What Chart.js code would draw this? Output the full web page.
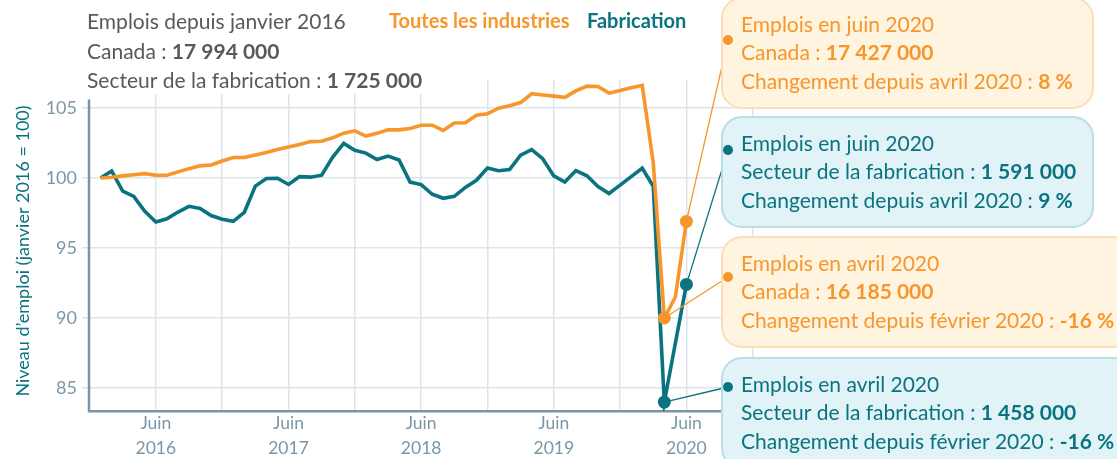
<!DOCTYPE html>
<html lang="fr">
<head>
<meta charset="utf-8">
<script src="https://cdn.jsdelivr.net/npm/chart.js@4.4.1/dist/chart.umd.min.js"></script>
<style>
  html, body { margin: 0; padding: 0; background: #fff; }
  #wrap { position: relative; width: 1117px; height: 459px; }
</style>
</head>
<body>
<div id="wrap"><canvas id="emploiChart" width="1117" height="459"></canvas></div>
<script>
// janvier 2016 -> juin 2020, indice (janvier 2016 = 100)
const mois = [
  'janv. 2016','févr. 2016','mars 2016','avr. 2016','mai 2016','juin 2016','juil. 2016','août 2016','sept. 2016','oct. 2016','nov. 2016','déc. 2016',
  'janv. 2017','févr. 2017','mars 2017','avr. 2017','mai 2017','juin 2017','juil. 2017','août 2017','sept. 2017','oct. 2017','nov. 2017','déc. 2017',
  'janv. 2018','févr. 2018','mars 2018','avr. 2018','mai 2018','juin 2018','juil. 2018','août 2018','sept. 2018','oct. 2018','nov. 2018','déc. 2018',
  'janv. 2019','févr. 2019','mars 2019','avr. 2019','mai 2019','juin 2019','juil. 2019','août 2019','sept. 2019','oct. 2019','nov. 2019','déc. 2019',
  'janv. 2020','févr. 2020','mars 2020','avr. 2020','mai 2020','juin 2020'
];
const toutesIndustries = [
  100.0, 100.06, 100.15, 100.23, 100.31, 100.2, 100.2, 100.44, 100.67, 100.87, 100.93, 101.21,
  101.46, 101.46, 101.64, 101.83, 102.03, 102.21, 102.4, 102.6, 102.62, 102.87, 103.2, 103.37,
  103.0, 103.19, 103.44, 103.44, 103.54, 103.77, 103.77, 103.4, 103.93, 103.95, 104.49, 104.59,
  104.99, 105.16, 105.39, 106.02, 105.93, 105.85, 105.76, 106.22, 106.56, 106.54, 106.06, 106.25,
  106.45, 106.61, 101.1, 90.0, 91.5, 96.9
];
const fabrication = [
  100.0, 100.5, 99.07, 98.69, 97.62, 96.86, 97.09, 97.57, 97.98, 97.82, 97.32, 97.06,
  96.91, 97.55, 99.42, 99.97, 99.98, 99.54, 100.1, 100.06, 100.2, 101.5, 102.47, 101.98,
  101.78, 101.32, 101.57, 101.29, 99.71, 99.53, 98.84, 98.55, 98.69, 99.33, 99.84, 100.72,
  100.52, 100.6, 101.63, 102.03, 101.38, 100.15, 99.71, 100.53, 100.16, 99.39, 98.89, 99.49,
  100.1, 100.7, 99.4, 84.0, 88.2, 92.4
];
const yTicks = [85, 90, 95, 100, 105];
const xGridMois = [5, 11, 17, 23, 29, 35, 41, 47, 53, 59];
const xTickMois = [5, 17, 29, 41, 53];
const xTickLabels = [['Juin', '2016'], ['Juin', '2017'], ['Juin', '2018'], ['Juin', '2019'], ['Juin', '2020']];
const pointsMarques = [51, 53]; // avril et juin 2020

const ORANGE = '#F6962B';
const TEAL = '#0A7380';
const GRIS = '#58595B';
const AXE = '#7995A6';
const GRILLE = '#DCE5EB';
const FONT = 'Lato, "Open Sans", sans-serif';

const encadres = [
  { idx: 53, serie: 0, x: 722, y: -2, w: 371, h: 110, dotY: 40, fond: '#FEF4E0', bord: '#FBDDBA', couleur: ORANGE,
    lignes: [[['Emplois en juin 2020', false]], [['Canada : ', false], ['17 427 000', true]], [['Changement depuis avril 2020 : ', false], ['8 %', true]]] },
  { idx: 53, serie: 1, x: 722, y: 117, w: 371, h: 110, dotY: 150, fond: '#E1F3F7', bord: '#B9DDE5', couleur: TEAL,
    lignes: [[['Emplois en juin 2020', false]], [['Secteur de la fabrication : ', false], ['1 591 000', true]], [['Changement depuis avril 2020 : ', false], ['9 %', true]]] },
  { idx: 51, serie: 0, x: 722, y: 237, w: 420, h: 110, dotY: 277, fond: '#FEF4E0', bord: '#FBDDBA', couleur: ORANGE,
    lignes: [[['Emplois en avril 2020', false]], [['Canada : ', false], ['16 185 000', true]], [['Changement depuis février 2020 : ', false], ['-16 %', true]]] },
  { idx: 51, serie: 1, x: 722, y: 358, w: 420, h: 110, dotY: 387, fond: '#E1F3F7', bord: '#B9DDE5', couleur: TEAL,
    lignes: [[['Emplois en avril 2020', false]], [['Secteur de la fabrication : ', false], ['1 458 000', true]], [['Changement depuis février 2020 : ', false], ['-16 %', true]]] }
];

function ecrire(ctx, segments, x, y, couleur, taille) {
  ctx.fillStyle = couleur;
  ctx.textBaseline = 'middle';
  ctx.textAlign = 'left';
  segments.forEach(seg => {
    ctx.font = (seg[1] ? 'bold ' : '') + taille + 'px ' + FONT;
    ctx.fillText(seg[0], x, y);
    x += ctx.measureText(seg[0]).width;
  });
  return x;
}

const decor = {
  id: 'decor',
  beforeDatasetsDraw(chart) {
    const ctx = chart.ctx;
    const area = chart.chartArea;
    const ys = chart.scales.y;
    ctx.save();
    ctx.strokeStyle = AXE;
    ctx.lineWidth = 2.5;
    ctx.beginPath();
    ctx.moveTo(area.left, ys.getPixelForValue(105.6));
    ctx.lineTo(area.left, area.bottom + 1);
    ctx.stroke();
    ctx.restore();
  },
  afterDraw(chart) {
    const ctx = chart.ctx;
    ctx.save();
    // titre de l'axe vertical
    ctx.save();
    ctx.translate(23, 251);
    ctx.rotate(-Math.PI / 2);
    ctx.fillStyle = TEAL;
    ctx.font = '18px ' + FONT;
    ctx.textAlign = 'center';
    ctx.textBaseline = 'middle';
    ctx.fillText('Niveau d\u2019emploi (janvier 2016 = 100)', 0, 0);
    ctx.restore();

    // titre en haut à gauche
    ctx.fillStyle = '#fff';
    ctx.fillRect(84, 0, 350, 94);
    ecrire(ctx, [['Emplois depuis janvier 2016', false]], 87, 22, GRIS, 21);
    ecrire(ctx, [['Canada : ', false], ['17 994 000', true]], 87, 52, GRIS, 21);
    ecrire(ctx, [['Secteur de la fabrication : ', false], ['1 725 000', true]], 87, 81, GRIS, 21);
    ecrire(ctx, [['Toutes les industries', true]], 389, 22, ORANGE, 20);
    ecrire(ctx, [['Fabrication', true]], 587, 22, TEAL, 20);

    // lignes de rappel
    encadres.forEach(e => {
      const pt = chart.getDatasetMeta(e.serie).data[e.idx];
      ctx.strokeStyle = e.couleur;
      ctx.lineWidth = 1.3;
      ctx.beginPath();
      ctx.moveTo(pt.x, pt.y);
      ctx.lineTo(e.x + 6, e.dotY);
      ctx.stroke();
    });
    // encadrés
    encadres.forEach(e => {
      ctx.fillStyle = e.fond;
      ctx.strokeStyle = e.bord;
      ctx.lineWidth = 2;
      ctx.beginPath();
      ctx.roundRect(e.x, e.y, e.w, e.h, 20);
      ctx.fill();
      ctx.stroke();
      ctx.fillStyle = e.couleur;
      ctx.beginPath();
      ctx.arc(e.x + 6, e.dotY, 5, 0, Math.PI * 2);
      ctx.fill();
      e.lignes.forEach((l, i) => ecrire(ctx, l, 741, e.y + 27 + i * 28.5, e.couleur, 21));
    });
    ctx.restore();
  }
};

const serie = arr => arr.map((v, i) => ({ x: i, y: v }));
const rayons = arr => arr.map((v, i) => pointsMarques.includes(i) ? 6.5 : 0);

let emploiChart;

function chart() {
  const ctx = document.getElementById('emploiChart').getContext('2d');
  emploiChart = new Chart(ctx, {
    type: 'line',
    data: {
      datasets: [
        {
          label: 'Toutes les industries',
          data: serie(toutesIndustries),
          borderColor: ORANGE,
          backgroundColor: ORANGE,
          borderWidth: 3.6,
          pointRadius: rayons(toutesIndustries),
          pointBorderWidth: 0,
          pointBackgroundColor: ORANGE,
          tension: 0
        },
        {
          label: 'Fabrication',
          data: serie(fabrication),
          borderColor: TEAL,
          backgroundColor: TEAL,
          borderWidth: 3.6,
          pointRadius: rayons(fabrication),
          pointBorderWidth: 0,
          pointBackgroundColor: TEAL,
          tension: 0
        }
      ]
    },
    options: {
      responsive: false,
      animation: false,
      devicePixelRatio: 1,
      layout: { padding: { left: 0, top: 80, right: 309, bottom: 0 } },
      plugins: { legend: { display: false }, tooltip: { enabled: false } },
      scales: {
        x: {
          type: 'linear',
          min: -1.05,
          max: 64,
          afterBuildTicks: s => { s.ticks = xGridMois.map(v => ({ value: v })); },
          afterFit: s => { s.height = 48; },
          grid: { color: GRILLE, lineWidth: 1.5, drawTicks: false },
          border: { display: true, color: AXE, width: 2.5 },
          ticks: {
            autoSkip: false,
            maxRotation: 0,
            padding: 0,
            color: '#7B97A6',
            font: { family: FONT, size: 17.5, lineHeight: 1.42 },
            callback: v => {
              const k = xTickMois.indexOf(v);
              return k >= 0 ? xTickLabels[k] : '';
            }
          }
        },
        y: {
          min: 83.36,
          max: 107,
          afterBuildTicks: s => { s.ticks = yTicks.map(v => ({ value: v })); },
          afterFit: s => { s.width = 89; },
          grid: { color: GRILLE, lineWidth: 1.5, tickLength: 7, drawTicks: true },
          border: { display: false },
          ticks: {
            padding: 5,
            color: '#7B97A6',
            font: { family: FONT, size: 18 }
          },
          title: { display: false }
        }
      }
    },
    plugins: [decor]
  });
}

window.onload = chart;
</script>
</body>
</html>
